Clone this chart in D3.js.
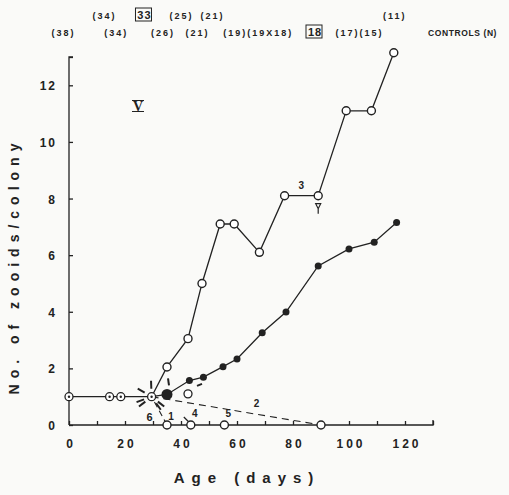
<!DOCTYPE html>
<html>
<head>
<meta charset="utf-8">
<script src="https://cdn.jsdelivr.net/npm/d3@7"></script>
<style>
  body { margin: 0; background: #fafaf8; }
  svg { display: block; }
  text { font-family: "Liberation Sans", Arial, sans-serif; fill: #222; }
</style>
</head>
<body>
<div id="chart"></div>
<script>
// data
var controlDays = [0, 14.5, 18.5, 29.5];
var controlValues = [1, 1, 1, 1];

// colony 3 (open circles)
var openDays = [29.5, 35, 42.5, 47.5, 54, 59, 68, 77, 89, 99, 108, 116];
var openValues = [1, 2.05, 3.05, 5, 7.1, 7.1, 6.1, 8.1, 8.1, 11.1, 11.1, 13.15];

// mean (filled circles)
var meanDays = [29.5, 35, 43, 48, 55, 60, 69, 77.5, 89, 100, 109, 117];
var meanValues = [1, 1.08, 1.57, 1.69, 2.06, 2.33, 3.26, 3.99, 5.62, 6.22, 6.46, 7.15];

// colonies that died back to zero
var deadDays = [35, 43.5, 55.5];
var deadLabels = ["1", "4", "5"];
var dashedEnd = [90, 0];   // colony 2
var strayDay = 42.5, strayValue = 1.1;

var xTicks = [0, 10, 20, 30, 40, 50, 60, 70, 80, 90, 100, 110, 120, 130];
var xTickLabels = [0, 20, 40, 60, 80, 100, 120];
var yTicks = [0, 2, 4, 6, 8, 10, 12, 13];
var yTickLabels = [0, 2, 4, 6, 8, 10, 12];

// control N shown along the top
var headerRow1 = [
  {day: 12.3, text: "(34)"}, {day: 26.6, text: "33", boxed: true},
  {day: 39.8, text: "(25)"}, {day: 50.9, text: "(21)"}, {day: 116, text: "(11)"}
];
var headerRow2 = [
  {day: -2.3, text: "(38)"}, {day: 16.5, text: "(34)"}, {day: 33.2, text: "(26)"},
  {day: 45.5, text: "(21)"}, {day: 67.2, text: "(19)(19X18)"}, {day: 87.5, text: "18", boxed: true},
  {day: 103.4, text: "(17)(15)"}
];
var burstAngles = [92, 150, 200, 218, 305, 322];

var svgWidth = 509;
var svgHeight = 495;
var margin = {top: 57, right: 76, bottom: 70, left: 69};
var width = svgWidth - margin.left - margin.right;
var height = svgHeight - margin.top - margin.bottom;

var svg = d3.select("#chart")
  .append("svg")
  .attr("width", svgWidth)
  .attr("height", svgHeight);

svg.append("rect").attr("width", svgWidth).attr("height", svgHeight).attr("fill", "#fafaf8");

var chartGroup = svg.append("g")
  .attr("transform", `translate(${margin.left}, ${margin.top})`);

var xScale = d3.scaleLinear().domain([0, 130]).range([0, width]);
var yScale = d3.scaleLinear().domain([0, 13]).range([height, 0]);

var ink = "#222";

// axes, ticks point inward
var bottomAxis = d3.axisBottom(xScale).tickValues(xTicks).tickSize(-4).tickFormat("");
var leftAxis = d3.axisLeft(yScale).tickValues(yTicks).tickSize(-4).tickFormat("");

chartGroup.append("g")
  .attr("transform", `translate(0, ${height})`)
  .call(bottomAxis)
  .call(g => g.select(".domain").attr("d", `M0,0H${width}V-5`));
chartGroup.append("g")
  .call(leftAxis)
  .call(g => g.select(".domain").attr("d", `M4,0H0V${height}`));
chartGroup.selectAll(".domain, .tick line").attr("stroke", ink).attr("stroke-width", 1.3);

chartGroup.selectAll(".xlab")
  .data(xTickLabels)
  .enter()
  .append("text")
  .attr("x", d => xScale(d) + 2)
  .attr("y", height + 23)
  .attr("text-anchor", "middle")
  .style("font-size", "12px")
  .style("font-weight", "bold")
  .style("letter-spacing", "3px")
  .text(d => d);

chartGroup.selectAll(".ylab")
  .data(yTickLabels)
  .enter()
  .append("text")
  .attr("x", -12)
  .attr("y", d => yScale(d) + 5)
  .attr("text-anchor", "end")
  .style("font-size", "12px")
  .style("font-weight", "bold")
  .style("letter-spacing", "2px")
  .text(d => d);

// lines
var line = d3.line().x(d => xScale(d[0])).y(d => yScale(d[1]));

chartGroup.append("path")
  .datum(controlDays.map((d, i) => [d, controlValues[i]]))
  .attr("d", line).attr("fill", "none").attr("stroke", ink).attr("stroke-width", 1.3);
chartGroup.append("path")
  .datum(openDays.map((d, i) => [d, openValues[i]]))
  .attr("d", line).attr("fill", "none").attr("stroke", ink).attr("stroke-width", 1.3);
chartGroup.append("path")
  .datum(meanDays.map((d, i) => [d, meanValues[i]]))
  .attr("d", line).attr("fill", "none").attr("stroke", ink).attr("stroke-width", 1.3);

var node = [controlDays[controlDays.length - 1], controlValues[controlValues.length - 1]];
chartGroup.append("path")
  .datum([node, dashedEnd])
  .attr("d", line).attr("fill", "none").attr("stroke", ink)
  .attr("stroke-width", 1.1).attr("stroke-dasharray", "7,5");
chartGroup.append("path")
  .datum([node, [deadDays[0], 0]])
  .attr("d", line).attr("fill", "none").attr("stroke", ink)
  .attr("stroke-width", 1.1).attr("stroke-dasharray", "6,4")
  .attr("stroke-dashoffset", -6);

// burst of strokes round the branching point
chartGroup.selectAll(".burst")
  .data(burstAngles)
  .enter()
  .append("line")
  .attr("x1", d => xScale(node[0]) + 8 * Math.cos(d * Math.PI / 180))
  .attr("y1", d => yScale(node[1]) - 8 * Math.sin(d * Math.PI / 180))
  .attr("x2", d => xScale(node[0]) + 16 * Math.cos(d * Math.PI / 180))
  .attr("y2", d => yScale(node[1]) - 16 * Math.sin(d * Math.PI / 180))
  .attr("stroke", ink).attr("stroke-width", 2);
// stroke above the first mean point and next to the stray circle
chartGroup.append("line")
  .attr("x1", xScale(meanDays[1]) + 1).attr("y1", yScale(meanValues[1]) - 16)
  .attr("x2", xScale(meanDays[1]) + 2).attr("y2", yScale(meanValues[1]) - 9)
  .attr("stroke", ink).attr("stroke-width", 2);
chartGroup.append("line")
  .attr("x1", xScale(strayDay) + 9).attr("y1", yScale(strayValue) - 8)
  .attr("x2", xScale(strayDay) + 14).attr("y2", yScale(strayValue) - 10)
  .attr("stroke", ink).attr("stroke-width", 2);
chartGroup.append("line")
  .attr("x1", xScale(deadDays[1]) - 7).attr("y1", yScale(0) - 8)
  .attr("x2", xScale(deadDays[1]) - 2).attr("y2", yScale(0) - 3)
  .attr("stroke", ink).attr("stroke-width", 1.2);

// markers
chartGroup.selectAll(".ctrl")
  .data(controlDays)
  .enter()
  .append("circle")
  .attr("cx", d => xScale(d)).attr("cy", (d, i) => yScale(controlValues[i]))
  .attr("r", 4).attr("fill", "#fff").attr("stroke", ink).attr("stroke-width", 1.3);
chartGroup.selectAll(".ctrldot")
  .data(controlDays)
  .enter()
  .append("circle")
  .attr("cx", d => xScale(d)).attr("cy", (d, i) => yScale(controlValues[i]))
  .attr("r", 1.2).attr("fill", ink);

chartGroup.selectAll(".open")
  .data(openDays.slice(1))
  .enter()
  .append("circle")
  .attr("cx", d => xScale(d)).attr("cy", (d, i) => yScale(openValues[i + 1]))
  .attr("r", 4).attr("fill", "#fff").attr("stroke", ink).attr("stroke-width", 1.4);

chartGroup.selectAll(".mean")
  .data(meanDays.slice(1))
  .enter()
  .append("circle")
  .attr("cx", d => xScale(d)).attr("cy", (d, i) => yScale(meanValues[i + 1]))
  .attr("r", (d, i) => i === 0 ? 5.5 : 3.5).attr("fill", ink);

chartGroup.selectAll(".dead")
  .data(deadDays.concat([dashedEnd[0]]))
  .enter()
  .append("circle")
  .attr("cx", d => xScale(d)).attr("cy", yScale(0))
  .attr("r", 4).attr("fill", "#fff").attr("stroke", ink).attr("stroke-width", 1.4);

chartGroup.append("circle")
  .attr("cx", xScale(strayDay)).attr("cy", yScale(strayValue))
  .attr("r", 4).attr("fill", "#fff").attr("stroke", ink).attr("stroke-width", 1.3);

// line numbers
chartGroup.selectAll(".deadlab")
  .data(deadLabels)
  .enter()
  .append("text")
  .attr("x", (d, i) => xScale(deadDays[i]) + 4)
  .attr("y", (d, i) => yScale(0) - (i === 0 ? 5 : 8))
  .attr("text-anchor", "middle")
  .style("font-size", "10px").style("font-weight", "bold")
  .text(d => d);
chartGroup.append("text")
  .attr("x", xScale(node[0]) - 2).attr("y", yScale(node[1]) + 24)
  .attr("text-anchor", "middle")
  .style("font-size", "11px").style("font-weight", "bold")
  .text("6");
chartGroup.append("text")
  .attr("x", xScale(67)).attr("y", yScale(0.65))
  .attr("text-anchor", "middle")
  .style("font-size", "10px").style("font-weight", "bold")
  .text("2");
chartGroup.append("text")
  .attr("x", xScale((openDays[7] + openDays[8]) / 2)).attr("y", yScale(openValues[7]) - 7)
  .attr("text-anchor", "middle")
  .style("font-size", "10px").style("font-weight", "bold")
  .text("3");

// female marker under day 89 point
var fx = xScale(openDays[8]), fy = yScale(openValues[8]) + 8;
chartGroup.append("path")
  .attr("d", `M${fx - 2.5},${fy} L${fx + 2.5},${fy} L${fx},${fy + 5} Z M${fx},${fy + 5} V${fy + 10}`)
  .attr("fill", "none").attr("stroke", ink).attr("stroke-width", 1.2);

// panel number
chartGroup.append("text")
  .attr("x", 69).attr("y", 54)
  .attr("text-anchor", "middle")
  .style("font-family", "'Liberation Serif', serif")
  .style("font-size", "14px").style("font-weight", "bold")
  .text("V");
chartGroup.append("path")
  .attr("d", "M63,43.5H75M63,54.5H75")
  .attr("stroke", ink).attr("stroke-width", 1.2);

// header: control colony numbers
function header(rows, y) {
  rows.forEach(function(d) {
    var t = svg.append("text")
      .attr("x", margin.left + xScale(d.day) + 1)
      .attr("y", y)
      .attr("text-anchor", "middle")
      .style("font-size", d.boxed ? "11px" : "9px")
      .style("font-weight", "bold")
      .style("letter-spacing", d.boxed ? "1px" : "2px")
      .text(d.text);
    if (d.boxed) {
      svg.append("rect")
        .attr("x", margin.left + xScale(d.day) - 8).attr("y", y - 11)
        .attr("width", 16).attr("height", 13)
        .attr("fill", "none").attr("stroke", ink).attr("stroke-width", 1);
    }
  });
}
header(headerRow1, 19);
header(headerRow2, 36);

svg.append("text")
  .attr("x", 428).attr("y", 36)
  .style("font-size", "8.5px").style("font-weight", "bold")
  .style("letter-spacing", "0.6px")
  .text("CONTROLS (N)");

// axis titles
svg.append("text")
  .attr("transform", "translate(19, 266) rotate(-90)")
  .attr("text-anchor", "middle")
  .style("font-size", "14px").style("font-weight", "bold")
  .style("letter-spacing", "6px")
  .text("No. of zooids/colony");

svg.append("text")
  .attr("x", 247).attr("y", 483)
  .attr("text-anchor", "middle")
  .style("font-size", "15px").style("font-weight", "bold")
  .style("letter-spacing", "7px")
  .text("Age (days)");
</script>
</body>
</html>
